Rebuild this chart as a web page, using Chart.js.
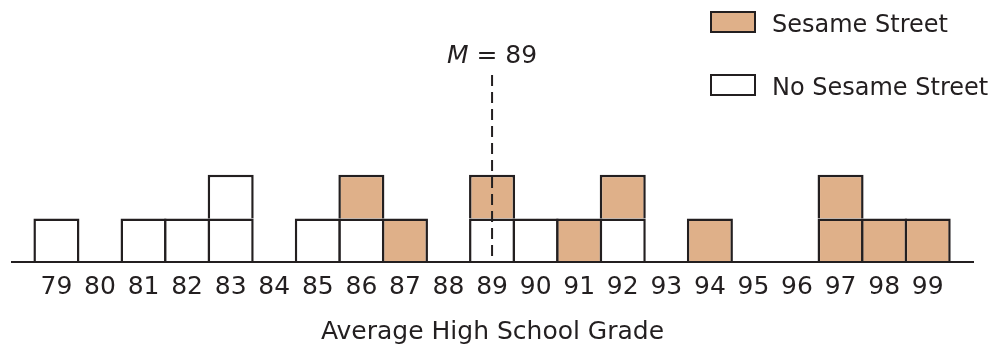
<!DOCTYPE html>
<html lang="en">
<head>
<meta charset="UTF-8">
<title>Average High School Grade</title>
<script src="https://cdn.jsdelivr.net/npm/chart.js"></script>
<style>
  html, body { margin: 0; padding: 0; background: #fff; }
  canvas { display: block; }
</style>
</head>
<body>
<canvas id="gradeChart" width="1008" height="347"></canvas>
<script>
// grades on the x axis and how many students landed on each one
const grades    = [79, 80, 81, 82, 83, 84, 85, 86, 87, 88, 89, 90, 91, 92, 93, 94, 95, 96, 97, 98, 99];
const noSesame  = [ 1,  0,  1,  1,  2,  0,  1,  1,  0,  0,  1,  1,  0,  1,  0,  0,  0,  0,  0,  0,  0];
const sesame    = [ 0,  0,  0,  0,  0,  0,  0,  1,  1,  0,  1,  0,  1,  1,  0,  1,  0,  0,  2,  1,  1];
const meanValue = 89;
const legendLabels = ['Sesame Street', 'No Sesame Street'];

const ORANGE = '#dfb089';
const WHITE = '#ffffff';
const INK = '#231f20';
const FONT = "'DejaVu Sans', sans-serif";

// one dataset per stacking level, each cell is its own box
const maxLevel = Math.max(...grades.map((g, i) => noSesame[i] + sesame[i]));
const datasets = [];
for (let k = 0; k < maxLevel; k++) {
    const cells = [];
    grades.forEach((g, i) => {
        if (k < noSesame[i] + sesame[i]) {
            cells.push({ x: g, y: [k, k + 1], sesame: k >= noSesame[i] });
        }
    });
    datasets.push({
        label: 'level ' + (k + 1),
        data: cells,
        backgroundColor: c => (c.raw && c.raw.sesame ? ORANGE : WHITE),
        borderColor: INK,
        borderWidth: 2.5,
        borderSkipped: 'start',
        grouped: false,
        barPercentage: 1.057,
        categoryPercentage: 1
    });
}

// mean line, its label and the legend
const overlay = {
    id: 'overlay',
    afterDatasetsDraw(chart) {
        const { ctx, scales: { x, y } } = chart;
        const px = x.getPixelForValue(meanValue);
        ctx.save();

        // "M = 89"
        ctx.fillStyle = INK;
        ctx.textBaseline = 'alphabetic';
        const italic = 'italic 25px ' + FONT;
        const normal = '25px ' + FONT;
        const rest = ' = ' + meanValue;
        ctx.font = italic;
        const wM = ctx.measureText('M').width;
        ctx.font = normal;
        const wR = ctx.measureText(rest).width;
        const startX = px - (wM + wR) / 2;
        ctx.font = italic;
        ctx.fillText('M', startX, 63);
        ctx.font = normal;
        ctx.fillText(rest, startX + wM, 63);

        ctx.strokeStyle = INK;
        ctx.lineWidth = 2;
        ctx.setLineDash([11, 6]);
        ctx.beginPath();
        ctx.moveTo(px, 75);
        ctx.lineTo(px, y.getPixelForValue(0));
        ctx.stroke();
        ctx.setLineDash([]);

        // legend
        const colors = [ORANGE, WHITE];
        legendLabels.forEach((lbl, i) => {
            const top = 12 + i * 63;
            ctx.fillStyle = colors[i];
            ctx.fillRect(711, top, 44, 20);
            ctx.lineWidth = 2;
            ctx.strokeStyle = INK;
            ctx.strokeRect(711, top, 44, 20);
            ctx.fillStyle = INK;
            ctx.font = '24px ' + FONT;
            ctx.fillText(lbl, 772, top + 20);
        });
        ctx.restore();
    }
};

new Chart(document.getElementById('gradeChart'), {
    type: 'bar',
    data: { datasets },
    options: {
        responsive: false,
        animation: false,
        devicePixelRatio: 1,
        layout: { padding: { top: 44, left: 12, right: 35, bottom: 0 } },
        plugins: { legend: { display: false }, tooltip: { enabled: false } },
        scales: {
            x: {
                type: 'linear',
                offset: false,
                min: 77.98,
                max: 100.04,
                afterBuildTicks: s => { s.ticks = grades.map(v => ({ value: v })); },
                afterFit: s => { s.height = 85; },
                grid: { display: false, drawTicks: false },
                border: { display: true, color: INK, width: 2, z: 1 },
                ticks: {
                    color: INK,
                    font: { family: FONT, size: 25 },
                    padding: 10,
                    autoSkip: false,
                    maxRotation: 0,
                    callback: v => String(v)
                },
                title: {
                    display: true,
                    text: 'Average High School Grade',
                    color: INK,
                    font: { family: FONT, size: 25 },
                    padding: { top: 0, bottom: 0 }
                }
            },
            y: { display: false, min: 0, max: 5 }
        }
    },
    plugins: [overlay]
});
</script>
</body>
</html>
